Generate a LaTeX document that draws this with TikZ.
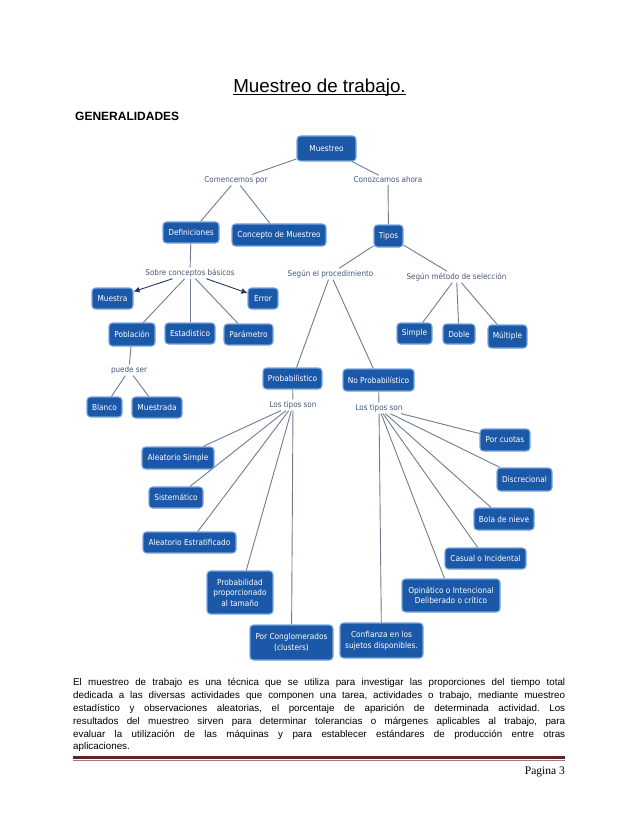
\documentclass[tikz,border=0pt]{standalone}
\usepackage{fontspec}
\setmainfont{Liberation Sans}
\newfontfamily\cmapfont{DejaVu Sans Condensed}
\newfontfamily\pagefont{Liberation Serif}
\usetikzlibrary{arrows.meta}
\definecolor{cmapfill}{RGB}{28,88,168}
\definecolor{cmapedge}{RGB}{120,166,226}
\definecolor{labelcol}{RGB}{72,88,120}
\definecolor{linkcol}{RGB}{112,124,148}
\definecolor{arrowcol}{RGB}{40,56,92}
\definecolor{footred}{RGB}{99,36,35}
\begin{document}
\begin{tikzpicture}[x=1pt,y=-1pt,
  cbox/.style={draw=cmapedge,line width=1.1pt,fill=cmapfill,rounded corners=3.5pt,
    text=white,font=\cmapfont\fontsize{8.2}{10.5}\selectfont,align=center,inner sep=1pt},
  clab/.style={text=labelcol,font=\cmapfont\fontsize{8}{10}\selectfont,inner sep=1.5pt},
  link/.style={draw=linkcol,line width=0.9pt},
  alink/.style={link,-{Latex[length=6pt,width=6pt]},arrowcol}]
\useasboundingbox (0,0) rectangle (638,826);
\fill[white] (0,0) rectangle (638,826);
% title
\node[anchor=base,inner sep=0,font=\fontsize{18.8}{22}\selectfont] (title) at (319.5,92.7) {Muestreo de trabajo.};
\draw[line width=1.1pt] ([yshift=-1.8pt]title.base west) -- ([yshift=-1.8pt]title.base east);
\node[anchor=base west,inner sep=0,font=\bfseries\fontsize{12}{14}\selectfont] (gen) at (75,121) {GENERALIDADES};
% boxes
\node[cbox,minimum width=59pt,minimum height=25pt] (mu) at (326.5,148.5) {Muestreo};
\node[cbox,minimum width=56pt,minimum height=21pt] (def) at (191,232.5) {Definiciones};
\node[cbox,minimum width=94pt,minimum height=22pt] (con) at (279,235) {Concepto de Muestreo};
\node[cbox,minimum width=29pt,minimum height=22pt] (tip) at (388.5,236) {Tipos};
\node[cbox,minimum width=41pt,minimum height=21pt] (mst) at (112.5,298.5) {Muestra};
\node[cbox,minimum width=30pt,minimum height=21pt] (err) at (263,298.5) {Error};
\node[cbox,minimum width=46pt,minimum height=23pt] (pob) at (132,334.5) {Población};
\node[cbox,minimum width=50pt,minimum height=21pt] (est) at (190,333.5) {Estadistico};
\node[cbox,minimum width=49pt,minimum height=21pt] (par) at (248.5,334.5) {Parámetro};
\node[cbox,minimum width=35pt,minimum height=20pt] (bla) at (104.5,407) {Blanco};
\node[cbox,minimum width=50pt,minimum height=21pt] (mda) at (157,407.5) {Muestrada};
\node[cbox,minimum width=35pt,minimum height=21pt] (sim) at (414.5,333.5) {Simple};
\node[cbox,minimum width=32pt,minimum height=20pt] (dob) at (459,334) {Doble};
\node[cbox,minimum width=39pt,minimum height=23pt] (mul) at (507.5,336.5) {Múltiple};
\node[cbox,minimum width=59pt,minimum height=21pt] (pro) at (292.5,378.5) {Probabilistico};
\node[cbox,minimum width=71pt,minimum height=22pt] (npr) at (378.5,380) {No Probabilístico};
\node[cbox,minimum width=72pt,minimum height=22pt] (as) at (178,458) {Aleatorio Simple};
\node[cbox,minimum width=54pt,minimum height=21pt] (sis) at (176,497.5) {Sistemático};
\node[cbox,minimum width=93pt,minimum height=21pt] (ae) at (189.5,542.5) {Aleatorio Estratificado};
\node[cbox,minimum width=66pt,minimum height=43pt] (ppt) at (240,592.5) {Probabilidad\\proporcionado\\al tamaño};
\node[cbox,minimum width=83pt,minimum height=35pt] (pcg) at (291.5,642.5) {Por Conglomerados\\(clusters)};
\node[cbox,minimum width=50pt,minimum height=22pt] (pcu) at (505,440) {Por cuotas};
\node[cbox,minimum width=55pt,minimum height=23pt] (dis) at (524.5,479.5) {Discrecional};
\node[cbox,minimum width=60pt,minimum height=22pt] (bdn) at (504,519) {Bola de nieve};
\node[cbox,minimum width=81pt,minimum height=21pt] (cas) at (485.5,558.5) {Casual o Incidental};
\node[cbox,minimum width=98pt,minimum height=33pt] (opi) at (451,595.5) {Opinático o Intencional\\Deliberado o crítico};
\node[cbox,minimum width=83pt,minimum height=35pt] (cnf) at (381.5,640.5) {Confianza en los\\sujetos disponibles.};
% labels
\node[clab] (l1) at (236,180) {Comencemos por};
\node[clab] (l2) at (388,180) {Conozcamos ahora};
\node[clab] (l3) at (190,273) {Sobre conceptos básicos};
\node[clab] (l4) at (129,370) {puede ser};
\node[clab] (l5) at (330.5,274) {Según el procedimiento};
\node[clab] (l6) at (456.5,277) {Según método de selección};
\node[clab] (l7) at (293,405) {Los tipos son};
\node[clab] (l8) at (379,408) {Los tipos son};
% links
\draw[link] (mu) -- (l1);
\draw[link] (mu) -- (l2);
\draw[link] (l1) -- (def);
\draw[link] (l1) -- (con);
\draw[link] (l2) -- (tip);
\draw[link] (def) -- (l3);
\draw[alink] (l3) -- (mst);
\draw[alink] (l3) -- (err);
\draw[link] (l3) -- (pob);
\draw[link] (l3) -- (est);
\draw[link] (l3) -- (par);
\draw[link] (pob) -- (l4);
\draw[link] (l4) -- (bla);
\draw[link] (l4) -- (mda);
\draw[link] (tip) -- (l5);
\draw[link] (tip) -- (l6);
\draw[link] (l6) -- (sim);
\draw[link] (l6) -- (dob);
\draw[link] (l6) -- (mul);
\draw[link] (l5) -- (pro);
\draw[link] (l5) -- (npr);
\draw[link] (pro) -- (l7);
\draw[link] (npr) -- (l8);
\foreach \t in {as,sis,ae,ppt,pcg} \draw[link] (l7) -- (\t);
\foreach \t in {pcu,dis,bdn,cas,opi,cnf} \draw[link] (l8) -- (\t);
% body text
\node[anchor=north west,inner sep=0,text width=492pt,align=justify,
  font=\fontsize{9.8}{12.8}\selectfont\frenchspacing] (body) at (73,678.5)
{El muestreo de trabajo es una técnica que se utiliza para investigar las proporciones del tiempo total\linebreak
dedicada a las diversas actividades que componen una tarea, actividades o trabajo, mediante muestreo\linebreak
estadístico y observaciones aleatorias, el porcentaje de aparición de determinada actividad. Los\linebreak
resultados del muestreo sirven para determinar tolerancias o márgenes aplicables al trabajo, para\linebreak
evaluar la utilización de las máquinas y para establecer estándares de producción entre otras\linebreak
aplicaciones.};
% footer
\coordinate (fl) at (73,757.3);
\coordinate (fr) at (565,757.3);
\draw[footred,line width=3pt] (fl) -- (fr);
\draw[footred!60,line width=0.7pt] ([yshift=-2.9pt]fl) -- ([yshift=-2.9pt]fr);
\node[anchor=base east,inner sep=0,font=\pagefont\fontsize{11.5}{13}\selectfont] (pag) at (565,774) {Pagina 3};
\end{tikzpicture}
\end{document}
